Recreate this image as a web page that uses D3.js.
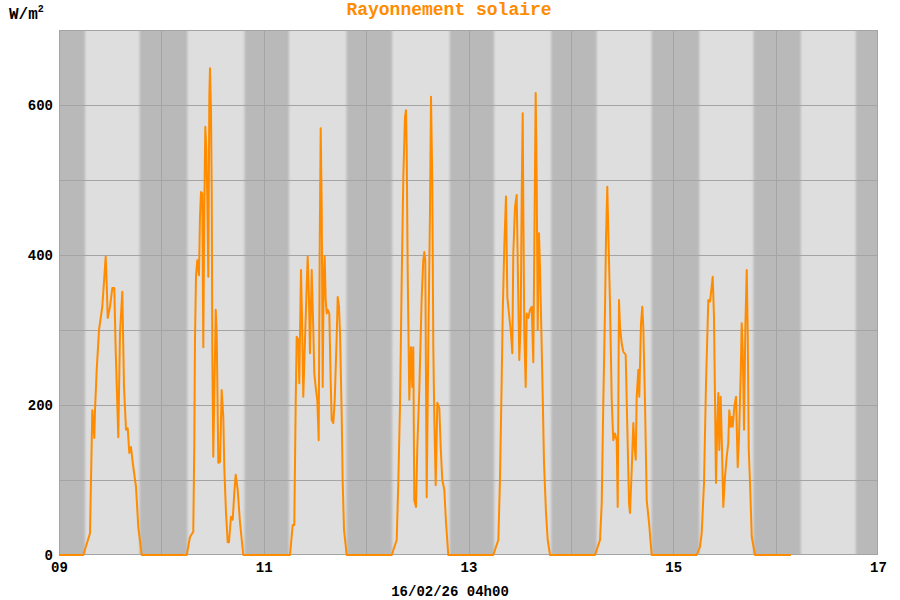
<!DOCTYPE html>
<html>
<head>
<meta charset="utf-8">
<script src="https://cdn.jsdelivr.net/npm/d3@7"></script>
<style>
  body { margin: 0; background: #ffffff; }
  text { font-family: "Liberation Mono", "DejaVu Sans Mono", monospace; }
</style>
</head>
<body>
<div id="chart"></div>
<script>
// --- données ---
const dayLabels = ["2026-02-09", "2026-02-10", "2026-02-11", "2026-02-12", "2026-02-13", "2026-02-14", "2026-02-15", "2026-02-16", "2026-02-17"];
const xTickLabels = ["09", "11", "13", "15", "17"];
const yTicks = [0, 200, 400, 600];
// lever / coucher (heure décimale) pour les bandes jour / nuit
const sunrise = [6.1, 6.1, 5.9, 6.1, 6.0, 6.05, 6.1, 5.9];
const sunset = [18.9, 19.5, 19.4, 19.6, 19.4, 18.95, 18.8, 18.8];

// [heure, W/m²]
const day09 = [[0, 0], [5.70, 0], [7.27, 29], [7.81, 193], [8.28, 156], [8.44, 193], [8.84, 247], [9.38, 300], [10.15, 331], [10.95, 398], [11.18, 362], [11.42, 316], [11.96, 331], [12.50, 356], [12.96, 356], [13.29, 273], [13.90, 157], [14.30, 296], [14.84, 351], [15.24, 224], [15.71, 167], [16.11, 169], [16.48, 136], [16.88, 144], [17.28, 123], [18.05, 91], [18.59, 37], [19.39, 0]];
const day10 = [[5.94, 0], [6.71, 24], [7.48, 31], [7.72, 150], [7.88, 287], [8.12, 373], [8.42, 393], [8.82, 373], [9.05, 451], [9.29, 484], [9.59, 482], [9.83, 277], [10.06, 460], [10.30, 571], [10.53, 544], [10.77, 473], [11.00, 371], [11.24, 611], [11.40, 649], [11.63, 593], [11.80, 487], [11.94, 273], [12.17, 131], [12.74, 327], [12.97, 296], [13.35, 123], [13.75, 124], [14.14, 220], [14.52, 184], [14.75, 117], [15.15, 56], [15.55, 17], [15.85, 17], [16.32, 51], [16.72, 47], [17.10, 83], [17.42, 107], [17.89, 87], [18.43, 43], [19.21, 0]];
const day11 = [[6.15, 0], [6.79, 40], [7.16, 40], [7.49, 203], [7.72, 291], [8.10, 287], [8.33, 229], [8.73, 380], [8.97, 318], [9.27, 211], [9.67, 287], [10.07, 358], [10.30, 398], [10.61, 340], [10.84, 269], [11.24, 380], [11.62, 300], [11.85, 242], [12.25, 220], [12.55, 207], [12.88, 153], [13.12, 411], [13.35, 569], [13.59, 464], [13.82, 224], [14.05, 371], [14.29, 398], [14.52, 340], [14.76, 322], [14.99, 327], [15.37, 322], [15.70, 229], [15.93, 180], [16.31, 176], [16.64, 207], [17.10, 291], [17.34, 344], [17.64, 331], [17.88, 296], [18.28, 184], [18.51, 96], [18.82, 33], [19.45, 0]];
const day12 = [[6.00, 0], [7.17, 20], [7.54, 96], [7.94, 198], [8.34, 367], [8.72, 504], [9.11, 584], [9.35, 593], [9.51, 544], [9.75, 376], [10.12, 207], [10.52, 277], [10.83, 224], [11.06, 277], [11.29, 73], [11.69, 64], [12.00, 144], [12.47, 220], [13.03, 344], [13.40, 393], [13.64, 404], [13.87, 393], [14.20, 77], [14.58, 283], [14.97, 456], [15.21, 611], [15.51, 500], [15.75, 277], [15.98, 184], [16.31, 93], [16.69, 203], [17.16, 196], [17.48, 144], [17.86, 100], [18.33, 87], [18.73, 43], [19.26, 0]];
const day13 = [[5.81, 0], [6.99, 20], [7.38, 100], [7.78, 233], [8.02, 322], [8.39, 411], [8.79, 478], [9.10, 344], [9.49, 322], [9.96, 296], [10.27, 269], [10.50, 402], [10.90, 464], [11.30, 480], [11.60, 367], [11.91, 260], [12.24, 313], [12.47, 478], [12.71, 589], [12.85, 464], [13.08, 296], [13.41, 224], [13.64, 322], [14.02, 316], [14.42, 327], [14.82, 331], [15.19, 257], [15.43, 411], [15.75, 616], [15.99, 500], [16.22, 300], [16.53, 429], [16.76, 384], [17.16, 277], [17.40, 211], [17.70, 123], [18.17, 56], [18.57, 20], [19.11, 0]];
const day14 = [[5.66, 0], [6.83, 20], [7.23, 69], [7.60, 202], [8.00, 327], [8.24, 424], [8.54, 491], [8.77, 433], [9.17, 336], [9.57, 207], [9.94, 153], [10.34, 162], [10.74, 153], [10.98, 64], [11.28, 340], [11.52, 304], [11.92, 282], [12.29, 271], [12.85, 267], [13.23, 171], [13.63, 69], [13.86, 56], [14.26, 113], [14.64, 176], [14.87, 149], [15.20, 127], [15.43, 211], [15.81, 247], [16.04, 211], [16.44, 309], [16.74, 331], [16.98, 304], [17.38, 202], [17.78, 73], [18.32, 43], [18.95, 0]];
const day15 = [[5.50, 0], [6.27, 11], [6.67, 29], [7.21, 96], [7.68, 229], [8.22, 340], [8.62, 338], [9.01, 358], [9.25, 371], [9.55, 318], [9.79, 207], [10.02, 96], [10.33, 176], [10.56, 216], [10.80, 140], [11.12, 211], [11.36, 157], [11.73, 64], [12.13, 104], [12.53, 131], [12.90, 149], [13.14, 193], [13.47, 171], [13.70, 184], [13.94, 171], [14.32, 198], [14.72, 211], [15.11, 117], [15.42, 157], [15.82, 243], [16.05, 309], [16.29, 273], [16.59, 167], [16.90, 304], [17.23, 380], [17.46, 296], [17.70, 140], [18.00, 96], [18.40, 24], [19.17, 0]];
const day16 = [[0, 0], [3.6, 0]];

const dailySeries = [day09, day10, day11, day12, day13, day14, day15, day16];

// --- configuration ---
const width = 900, height = 600;
const margin = { top: 30, right: 22, bottom: 45, left: 59 };
const orange = "#ff8c00";

const parseDay = d3.utcParse("%Y-%m-%d");
const dayDates = dayLabels.map(parseDay);
const hourMs = 3600 * 1000;

const points = [];
dailySeries.forEach((arr, i) => {
    arr.forEach(([h, v]) => points.push({ date: new Date(dayDates[i].getTime() + h * hourMs), value: v }));
});

const svg = d3.select("#chart").append("svg")
    .attr("width", width)
    .attr("height", height);

const x = d3.scaleUtc()
    .domain([dayDates[0], dayDates[dayDates.length - 1]])
    .range([margin.left, width - margin.right]);

const y = d3.scaleLinear()
    .domain([0, 700])
    .range([height - margin.bottom, margin.top]);

const defs = svg.append("defs");
defs.append("clipPath").attr("id", "plot-clip")
    .append("rect")
    .attr("x", x.range()[0]).attr("y", y.range()[1])
    .attr("width", x.range()[1] - x.range()[0])
    .attr("height", y.range()[0] - y.range()[1]);
defs.append("filter").attr("id", "soft")
    .attr("x", "-10%").attr("width", "120%")
    .append("feGaussianBlur").attr("stdDeviation", "1.3 0");

// fond nuit
const bg = svg.append("g").attr("clip-path", "url(#plot-clip)");
bg.append("rect")
    .attr("x", x.range()[0]).attr("y", y.range()[1])
    .attr("width", x.range()[1] - x.range()[0])
    .attr("height", y.range()[0] - y.range()[1])
    .attr("fill", "#b9b9b9");

// bandes de jour
bg.append("g").attr("filter", "url(#soft)")
    .selectAll("rect")
    .data(sunrise.map((s, i) => ({ start: new Date(dayDates[i].getTime() + s * hourMs), end: new Date(dayDates[i].getTime() + sunset[i] * hourMs) })))
    .join("rect")
    .attr("x", d => x(d.start))
    .attr("y", y.range()[1] - 5)
    .attr("width", d => x(d.end) - x(d.start))
    .attr("height", y.range()[0] - y.range()[1] + 10)
    .attr("fill", "#dedede");

// grille
const grid = svg.append("g").attr("stroke", "#a4a4a4").attr("stroke-width", 1);
grid.selectAll("line.h")
    .data(d3.range(100, 700, 100))
    .join("line")
    .attr("class", "h")
    .attr("x1", x.range()[0]).attr("x2", x.range()[1])
    .attr("y1", d => Math.round(y(d)) + 0.5).attr("y2", d => Math.round(y(d)) + 0.5);
grid.selectAll("line.v")
    .data(dayDates.slice(1, -1))
    .join("line")
    .attr("class", "v")
    .attr("x1", d => Math.round(x(d)) + 0.5).attr("x2", d => Math.round(x(d)) + 0.5)
    .attr("y1", y.range()[1]).attr("y2", y.range()[0]);

svg.append("rect")
    .attr("x", x.range()[0] + 0.5).attr("y", y.range()[1] + 0.5)
    .attr("width", x.range()[1] - x.range()[0] - 1)
    .attr("height", y.range()[0] - y.range()[1] - 1)
    .attr("fill", "none")
    .attr("stroke", "#a4a4a4");

// courbe
const line = d3.line()
    .x(d => x(d.date))
    .y(d => y(d.value));

svg.append("path")
    .datum(points)
    .attr("fill", "none")
    .attr("stroke", orange)
    .attr("stroke-width", 2)
    .attr("stroke-linejoin", "round")
    .attr("d", line);

// axes (texte seulement)
const xAxis = d3.axisBottom(x)
    .tickValues(xTickLabels.map(t => parseDay("2026-02-" + t)))
    .tickFormat(d3.utcFormat("%d"))
    .tickSize(0)
    .tickPadding(7);
const gx = svg.append("g")
    .attr("transform", `translate(0,${y.range()[0]})`)
    .call(xAxis);
gx.select(".domain").remove();
gx.selectAll("text")
    .attr("font-family", "Liberation Mono, monospace")
    .attr("font-size", 14)
    .attr("font-weight", "bold")
    .attr("fill", "#000");

const yAxis = d3.axisLeft(y)
    .tickValues(yTicks)
    .tickSize(0)
    .tickPadding(6);
const gy = svg.append("g")
    .attr("transform", `translate(${x.range()[0]},0)`)
    .call(yAxis);
gy.select(".domain").remove();
gy.selectAll("text")
    .attr("font-family", "Liberation Mono, monospace")
    .attr("font-size", 14)
    .attr("font-weight", "bold")
    .attr("fill", "#000");

// titres
svg.append("text")
    .attr("x", 449).attr("y", 15)
    .attr("text-anchor", "middle")
    .attr("font-size", 18)
    .attr("font-weight", "bold")
    .attr("fill", orange)
    .text("Rayonnement solaire");

const unit = svg.append("text")
    .attr("x", 9).attr("y", 19)
    .attr("font-size", 16)
    .attr("font-weight", "bold")
    .attr("fill", "#000");
unit.append("tspan").text("W/m");
unit.append("tspan").attr("dy", -7).attr("font-size", 10).text("2");

svg.append("text")
    .attr("x", 450).attr("y", 596)
    .attr("text-anchor", "middle")
    .attr("font-size", 14)
    .attr("font-weight", "bold")
    .attr("fill", "#000")
    .text("16/02/26 04h00");
</script>
</body>
</html>
